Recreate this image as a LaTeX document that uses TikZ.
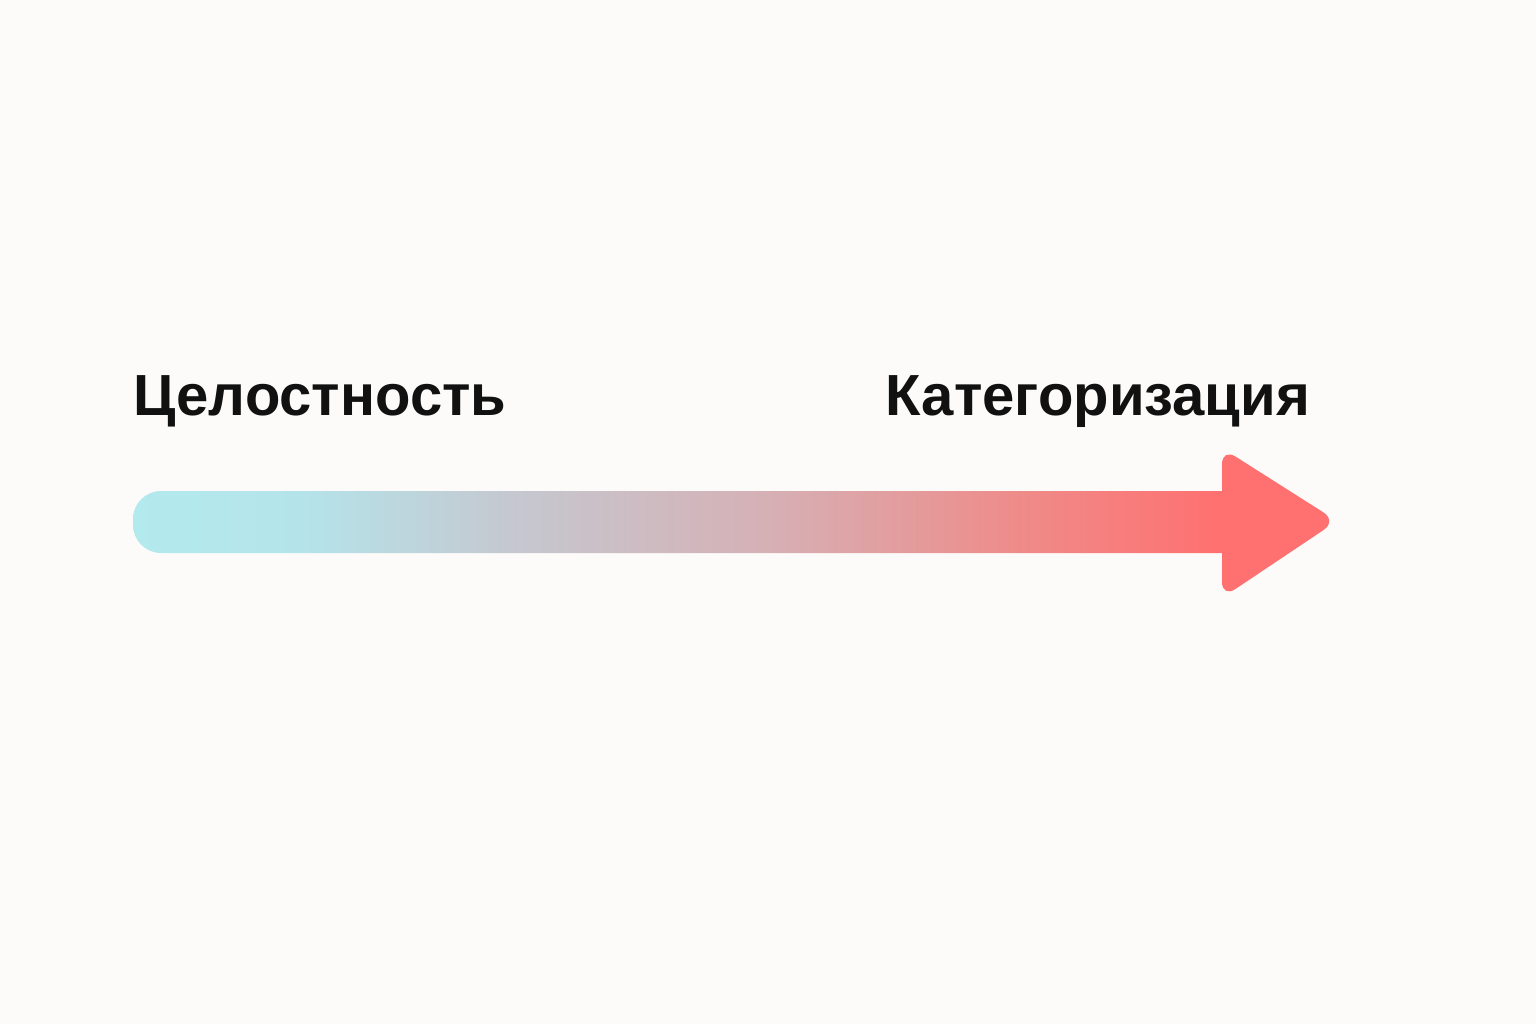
\documentclass[tikz,border=0pt]{standalone}
\usepackage{fontspec}
\setmainfont{Liberation Sans}
\definecolor{bgpaper}{HTML}{FCFBF9}
\definecolor{gcyan}{HTML}{B3EAEE}
\definecolor{gcyanb}{HTML}{B4E4EA}
\definecolor{ggray}{HTML}{C5C8D0}
\definecolor{gmauve}{HTML}{D5B1B6}
\definecolor{gpink}{HTML}{EE8C8A}
\definecolor{gred}{HTML}{FF7070}
\definecolor{inkblack}{HTML}{111111}
\pgfdeclarehorizontalshading{shaftgrad}{100bp}{color(0bp)=(gcyan); color(25bp)=(gcyan); color(32.5bp)=(gcyanb); color(42bp)=(ggray); color(53.5bp)=(gmauve); color(65bp)=(gpink); color(74.5bp)=(gred); color(100bp)=(gred)}
\begin{document}
\begin{tikzpicture}[font=\bfseries\fontsize{16.5}{20}\selectfont]
                \fill[bgpaper](0,0) rectangle (15.36,10.24);
                \useasboundingbox (0,0) rectangle (15.36,10.24);
                \shade[shading=shaftgrad](12.35,5.33)--(1.61,5.33) arc[start angle=90,end angle=180,radius=0.28]--(1.33,4.99) arc[start angle=180,end angle=270,radius=0.28]--(12.35,4.71)--cycle;
                \fill[gred,rounded corners=0.16cm](12.22,5.76)--(13.37,5.03)--(12.22,4.26)--cycle;
                \node[anchor=base west,inner sep=0pt,text=inkblack] (whole) at (1.33,6.09){Целостность};
                \node[anchor=base west,inner sep=0pt,text=inkblack] (categ) at (8.85,6.09){Категоризация};
            \end{tikzpicture}
\end{document}
